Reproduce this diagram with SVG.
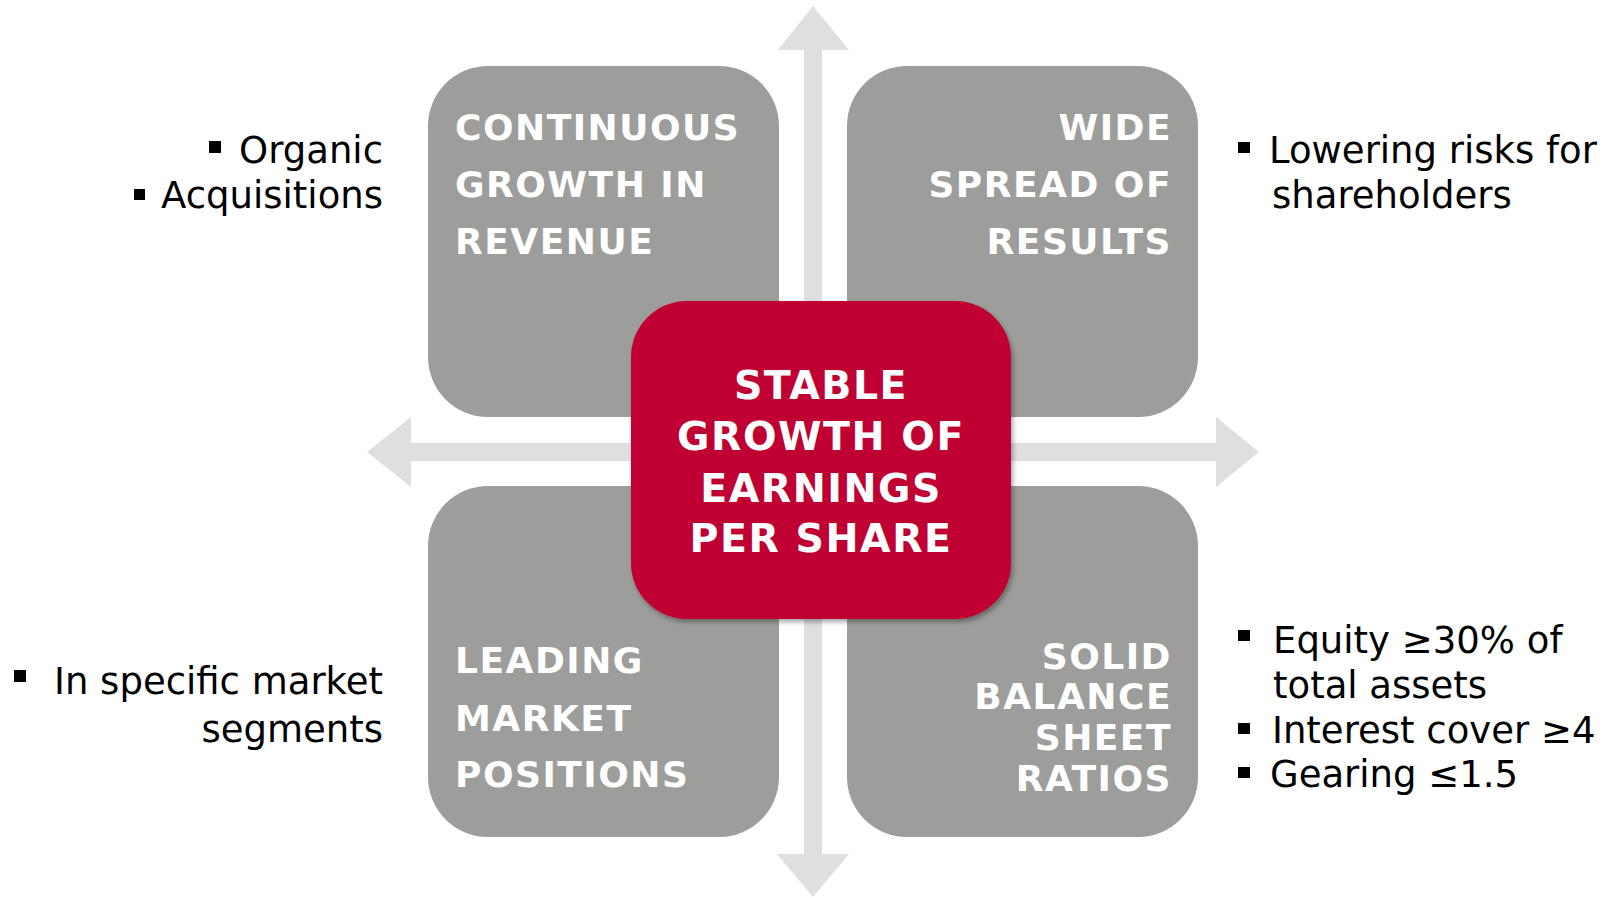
<svg xmlns="http://www.w3.org/2000/svg" width="1614" height="898" viewBox="0 0 1614 898">
  <defs>
    <filter id="shadow" x="-10%" y="-10%" width="125%" height="125%">
      <feDropShadow dx="2" dy="3" stdDeviation="2.5" flood-color="#000" flood-opacity="0.35"/>
    </filter>
    <style>
      .axis { fill: #DFDFDF; }
      .tile { fill: #9D9D9C; }
      .core { fill: #C00033; filter: url(#shadow); }
      .tile-label { font-family: "DejaVu Sans", Verdana, sans-serif; font-weight: bold; font-size: 36px; letter-spacing: 1.5px; fill: #FFFFFF; }
      .core-label { font-family: "DejaVu Sans", Verdana, sans-serif; font-weight: bold; font-size: 39.5px; letter-spacing: 1.5px; fill: #FFFFFF; text-anchor: middle; }
      .note { font-family: "DejaVu Sans", Verdana, sans-serif; font-size: 37px; fill: #000000; }
      .bullet { fill: #000000; }
    </style>
  </defs>

  <rect width="1614" height="898" fill="#FFFFFF"/>

  <!-- double-headed axes -->
  <g id="connectors">
    <polygon class="axis" points="813,6 849,50 822,50 822,854 849,854 813,897 777,854 804,854 804,50 778,50"/>
    <polygon class="axis" points="367,452 411,417 411,443 1216,443 1216,417 1259,452 1216,487 1216,461 411,461 411,487"/>
  </g>

  <!-- quadrant tiles -->
  <g id="node-revenue">
    <rect class="tile" x="428" y="66" width="351" height="351" rx="60" ry="60"/>
    <text class="tile-label" x="455" y="140">CONTINUOUS</text>
    <text class="tile-label" x="455" y="197">GROWTH IN</text>
    <text class="tile-label" x="455" y="254">REVENUE</text>
  </g>

  <g id="node-spread">
    <rect class="tile" x="847" y="66" width="351" height="351" rx="60" ry="60"/>
    <text class="tile-label" x="1172" y="140" text-anchor="end">WIDE</text>
    <text class="tile-label" x="1172" y="197" text-anchor="end">SPREAD OF</text>
    <text class="tile-label" x="1172" y="254" text-anchor="end">RESULTS</text>
  </g>

  <g id="node-market">
    <rect class="tile" x="428" y="486" width="351" height="351" rx="60" ry="60"/>
    <text class="tile-label" x="455" y="673">LEADING</text>
    <text class="tile-label" x="455" y="731">MARKET</text>
    <text class="tile-label" x="455" y="787">POSITIONS</text>
  </g>

  <g id="node-balance">
    <rect class="tile" x="847" y="486" width="351" height="351" rx="60" ry="60"/>
    <text class="tile-label" x="1172" y="669" text-anchor="end">SOLID</text>
    <text class="tile-label" x="1172" y="709" text-anchor="end">BALANCE</text>
    <text class="tile-label" x="1172" y="750" text-anchor="end">SHEET</text>
    <text class="tile-label" x="1172" y="791" text-anchor="end">RATIOS</text>
  </g>

  <!-- central goal -->
  <g id="node-eps">
    <rect class="core" x="631" y="301" width="380" height="318" rx="56" ry="56"/>
    <text class="core-label" x="821" y="399">STABLE</text>
    <text class="core-label" x="821" y="450">GROWTH OF</text>
    <text class="core-label" x="821" y="502">EARNINGS</text>
    <text class="core-label" x="821" y="552">PER SHARE</text>
  </g>

  <!-- side notes -->
  <g id="note-revenue">
    <rect class="bullet" x="209" y="141" width="12" height="12"/>
    <text class="note" x="383" y="163" text-anchor="end">Organic</text>
    <rect class="bullet" x="134" y="189" width="11" height="11"/>
    <text class="note" x="383" y="208" text-anchor="end">Acquisitions</text>
  </g>

  <g id="note-spread">
    <rect class="bullet" x="1238" y="142" width="12" height="11"/>
    <text class="note" x="1269" y="163">Lowering risks for</text>
    <text class="note" x="1272" y="208">shareholders</text>
  </g>

  <g id="note-market">
    <rect class="bullet" x="14" y="670" width="12" height="12"/>
    <text class="note" x="383" y="694" text-anchor="end">In specific market</text>
    <text class="note" x="383" y="742" text-anchor="end">segments</text>
  </g>

  <g id="note-balance">
    <rect class="bullet" x="1238" y="630" width="12" height="11"/>
    <text class="note" x="1273" y="653">Equity ≥30% of</text>
    <text class="note" x="1273" y="698">total assets</text>
    <rect class="bullet" x="1238" y="723" width="12" height="11"/>
    <text class="note" x="1272" y="743">Interest cover ≥4</text>
    <rect class="bullet" x="1238" y="767" width="12" height="11"/>
    <text class="note" x="1270" y="787">Gearing ≤1.5</text>
  </g>
</svg>
